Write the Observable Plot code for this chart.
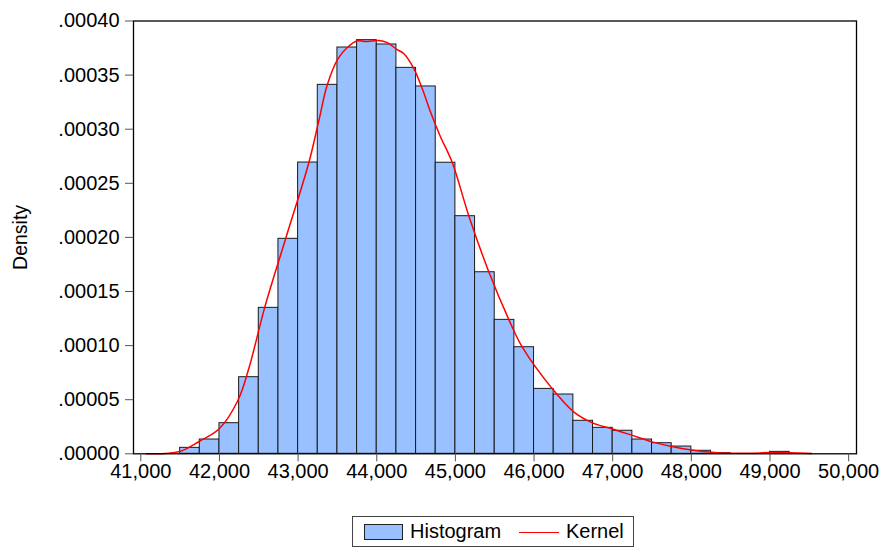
<!DOCTYPE html>
<html>
<head>
<meta charset="utf-8">
<script src="https://cdn.jsdelivr.net/npm/d3@7"></script>
<script src="https://cdn.jsdelivr.net/npm/@observablehq/plot@0.6"></script>
<style>
  html, body { margin: 0; padding: 0; background: #fff; }
  #wrap { position: relative; width: 881px; height: 548px; font-family: "Liberation Sans", Arial, sans-serif; }
  #legend { position: absolute; left: 352px; top: 516px; width: 282px; height: 31px; border: 1px solid #444; box-sizing: border-box; font-size: 20px; color: #000; }
  #legend .sw { position: absolute; left: 11px; top: 7px; width: 39px; height: 16px; background: #99c0ff; border: 1px solid #222; box-sizing: border-box; }
  #legend .t1 { position: absolute; left: 57px; top: 3px; line-height: 22px; }
  #legend .ln { position: absolute; left: 166px; top: 15px; width: 40px; height: 0; border-top: 1.5px solid #ff0000; }
  #legend .t2 { position: absolute; left: 213px; top: 3px; line-height: 22px; }
  svg text { font-family: "Liberation Sans", Arial, sans-serif; }
</style>
</head>
<body>
<div id="wrap">
  <div id="chart"></div>
  <div id="legend"><div class="sw"></div><span class="t1">Histogram</span><div class="ln"></div><span class="t2">Kernel</span></div>
</div>
<script>
// Histogram bins (width 250), density values
const binStart = [41500, 41750, 42000, 42250, 42500, 42750, 43000, 43250, 43500, 43750,
                  44000, 44250, 44500, 44750, 45000, 45250, 45500, 45750, 46000, 46250,
                  46500, 46750, 47000, 47250, 47500, 47750, 48000, 48250, 48500, 48750, 49000];
const binWidth = 250;
const density = [0.0000055, 0.0000132, 0.0000283, 0.0000708, 0.0001349, 0.0001987, 0.0002692, 0.000341, 0.0003755, 0.0003823,
                 0.0003783, 0.0003567, 0.0003395, 0.000269, 0.0002196, 0.0001678, 0.0001238, 0.0000985, 0.000060, 0.0000548,
                 0.0000305, 0.000024, 0.0000213, 0.0000132, 0.0000098, 0.0000067, 0.0000028, 0.0000006, 0, 0, 0.0000018];

// Kernel density curve
const kernelX = [41069, 41496, 41747, 41997, 42234, 42374, 42574, 42841, 43137, 43264,
                 43371, 43506, 43625, 43756, 43858, 44027, 44134, 44249, 44345, 44473,
                 44579, 44685, 44803, 44961, 45172, 45427, 45681, 45851, 46233, 46508,
                 46750, 46996, 47251, 47503, 47751, 48001, 48250, 48501, 48755, 48999,
                 49252, 49531];
const kernelY = [0.0000000, 0.0000021, 0.0000116, 0.0000231, 0.0000493, 0.0000790, 0.0001349, 0.0001987, 0.0002692, 0.000308,
                 0.000341, 0.000365, 0.0003755, 0.0003817, 0.000381, 0.000382, 0.000380, 0.000374, 0.0003697, 0.0003558,
                 0.0003373, 0.0003157, 0.0002942, 0.000269, 0.0002196, 0.0001678, 0.0001238, 0.0000985, 0.000060, 0.0000385,
                 0.0000283, 0.000023, 0.0000170, 0.0000110, 0.0000067, 0.0000035, 0.0000015, 0.0000005, 0.0000005, 0.0000012,
                 0.0000009, 0.0000002];

const yTicks = [0, 0.00005, 0.0001, 0.00015, 0.0002, 0.00025, 0.0003, 0.00035, 0.0004];
const xTicks = [41000, 42000, 43000, 44000, 45000, 46000, 47000, 48000, 49000, 50000];

const bars = binStart.map((s, i) => ({x1: s, x2: s + binWidth, y: density[i]})).filter(d => d.y > 0);
const kernel = kernelX.map((x, i) => ({x, y: kernelY[i]}));

const fmtY = v => d3.format(".5f")(v).replace(/^0/, "");
const fmtX = d3.format(",");

const chart = Plot.plot({
  width: 881,
  height: 500,
  marginLeft: 133,
  marginRight: 25,
  marginTop: 20.5,
  marginBottom: 46.7,
  style: {fontFamily: "Liberation Sans, Arial, sans-serif", fontSize: "20px", color: "#000", background: "#fff"},
  x: {domain: [40907, 50100]},
  y: {domain: [0, 0.0004]},
  marks: [
    Plot.rect(bars, {x1: "x1", x2: "x2", y1: 0, y2: "y", fill: "#99c0ff", stroke: "#1a1a1a", strokeWidth: 1}),
    Plot.line(kernel, {x: "x", y: "y", stroke: "#ff0000", strokeWidth: 1.5, curve: "catmull-rom"}),
    Plot.frame({stroke: "#000", strokeWidth: 1.3}),
    Plot.axisY({ticks: yTicks, tickFormat: fmtY, tickSize: 8, tickPadding: 6, label: null, stroke: "#555", fontSize: 20}),
    Plot.axisX({ticks: xTicks, tickFormat: fmtX, tickSize: 8, tickPadding: 2, label: null, stroke: "#555", fontSize: 20}),
    Plot.text(["Density"], {frameAnchor: "left", dx: -113, rotate: -90, textAnchor: "middle", fontSize: 19.5, fill: "#000"})
  ]
});
document.getElementById("chart").appendChild(chart);
</script>
</body>
</html>
